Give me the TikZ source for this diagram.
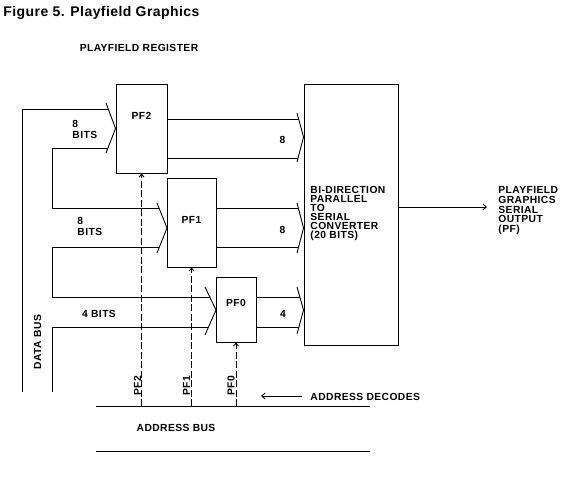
\documentclass[tikz,border=0pt]{standalone}
\usepackage{fontspec}
\setmainfont{Liberation Sans}
\newfontfamily\labfont{Liberation Sans}[LetterSpace=4]
\newfontfamily\ttlfont{Liberation Sans}[LetterSpace=3]
\usetikzlibrary{arrows.meta}
\tikzset{
  regbox/.style={draw, rectangle, inner sep=0pt},
  lbl/.style={inner sep=0pt, font=\labfont\bfseries\fontsize{10.3}{11}\selectfont},
  mlbl/.style={lbl, align=left, anchor=north west},
  ctrl/.style={dash pattern=on 7pt off 2.5pt, -{Straight Barb[length=3pt,width=5pt]}},
  barb/.style={-{Straight Barb[length=3.5pt,width=6pt]}}
}
\begin{document}
\begin{tikzpicture}[x=1pt,y=-1pt,line width=0.9pt]
\useasboundingbox (0,0) rectangle (580,481);
% title
\node[inner sep=0pt, anchor=base west, font=\ttlfont\bfseries\fontsize{14}{16}\selectfont] (title) at (3,17) {Figure 5. Playfield Graphics};
\node[lbl] (regttl) at (139,48) {PLAYFIELD REGISTER};
% boxes
\node[regbox, minimum width=51pt, minimum height=89pt] (pf2) at (141.5,128.5) {};
\node[regbox, minimum width=49pt, minimum height=89pt] (pf1) at (191.5,222.5) {};
\node[regbox, minimum width=40pt, minimum height=65pt] (pf0) at (236,309.5) {};
\node[regbox, minimum width=94pt, minimum height=261pt] (conv) at (351,214.5) {};
\node[lbl] (pf2t) at (141.5,116) {PF2};
\node[lbl] (pf1t) at (191.5,220) {PF1};
\node[lbl] (pf0t) at (236,303) {PF0};
\node[mlbl, font=\labfont\bfseries\fontsize{10.3}{9}\selectfont] (convt) at (310,186) {BI-DIRECTION\\PARALLEL\\TO\\SERIAL\\CONVERTER\\(20 BITS)};
\node[mlbl, font=\labfont\bfseries\fontsize{10.3}{9.75}\selectfont] (outt) at (498,186) {PLAYFIELD\\GRAPHICS\\SERIAL\\OUTPUT\\(PF)};
% data bus
\coordinate (dbtop) at (22,109);
\coordinate (dbbot) at (22,392);
\draw (dbbot) -- (dbtop) -- (108.4,109);
\draw (108,148) -| (52,208) -- (159,208);
\draw (159.4,247) -| (52,297) -- (209.8,297);
\draw (207.9,327) -| (52,392);
% input chevrons
\draw (106,103) -- (pf2.west) -- (106,153);
\draw (157,203) -- (167,228) -- (157,253);
\draw (205,287) -- (216,310) -- (205,335);
% outputs to converter
\draw (pf2.east |- 0,119) -- (299,119);
\draw (pf2.east |- 0,158) -- (298,158);
\draw (297,113) -- (conv.west |- 0,137) -- (297,162);
\draw (pf1.east |- 0,208) -- (298.4,208);
\draw (pf1.east |- 0,247) -- (298.4,247);
\draw (297,203) -- (conv.west |- 0,228) -- (297,253);
\draw (pf0.east |- 0,297) -- (300,297);
\draw (pf0.east |- 0,327) -- (299,327);
\draw (297,287) -- (conv.west |- 0,310) -- (297,334);
% bit labels
\node[mlbl] (b2) at (72,120) {8\\BITS};
\node[mlbl] (b1) at (77,217) {8\\BITS};
\node[lbl, anchor=west] (b0) at (81.7,313.5) {4 BITS};
\node[lbl] (o2) at (282.5,140) {8};
\node[lbl] (o1) at (282.5,230) {8};
\node[lbl] (o0) at (283,313.5) {4};
% serial output
\coordinate (outend) at (487,207);
\draw[barb] (conv.east |- outend) -- (outend);
% data bus label
\node[lbl, rotate=90] (dbl) at (37.5,342) {DATA BUS};
% address bus
\coordinate (ab1) at (96,406);
\coordinate (ab2) at (370,406);
\coordinate (ab3) at (96,451);
\coordinate (ab4) at (370,451);
\draw (ab1) -- (ab2);
\draw (ab3) -- (ab4);
\node[lbl] (abl) at (176,428) {ADDRESS BUS};
% control lines
\draw[ctrl] (pf2.south |- ab1) -- (pf2.south);
\draw[ctrl] (pf1.south |- ab1) -- (pf1.south);
\draw[ctrl] (pf0.south |- ab1) -- (pf0.south);
\node[lbl, rotate=90] (c2) at (137.5,386) {PF2};
\node[lbl, rotate=90] (c1) at (186.5,386) {PF1};
\node[lbl, rotate=90] (c0) at (231,386) {PF0};
% address decodes
\node[lbl, anchor=west] (adl) at (310,397) {ADDRESS DECODES};
\coordinate (adtip) at (261,396);
\draw[barb] (302,396) -- (adtip);
\end{tikzpicture}
\end{document}
